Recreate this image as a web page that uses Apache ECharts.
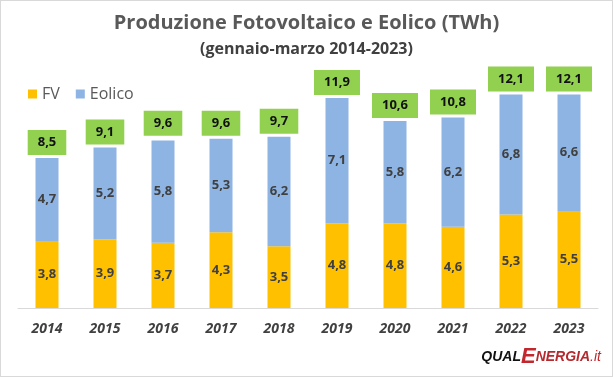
<!DOCTYPE html>
<html>
<head>
<meta charset="utf-8">
<script src="https://cdn.jsdelivr.net/npm/echarts@6/dist/echarts.min.js"></script>
<style>
    html, body { margin: 0; padding: 0; background: #fff; }
    #chart { width: 611px; height: 375px; border: 1px solid #d9d9d9; }
</style>
</head>
<body>
<div id="chart"></div>
<script>
    var years = ['2014', '2015', '2016', '2017', '2018', '2019', '2020', '2021', '2022', '2023'];
    var fv = [3.8, 3.9, 3.7, 4.3, 3.5, 4.8, 4.8, 4.6, 5.3, 5.5];
    var eolico = [4.7, 5.2, 5.8, 5.3, 6.2, 7.1, 5.8, 6.2, 6.8, 6.6];
    var totali = [8.5, 9.1, 9.6, 9.6, 9.7, 11.9, 10.6, 10.8, 12.1, 12.1];

    var font = '"Open Sans", "Noto Sans", sans-serif';
    function virgola(p) { return String(p.value.toFixed(1)).replace('.', ','); }

    var chart = echarts.init(document.getElementById('chart'));
    var option = {
        animation: false,
        title: [{
            text: 'Produzione Fotovoltaico e Eolico (TWh)',
            left: 'center',
            top: 7,
            textStyle: { fontFamily: font, fontSize: 20, fontWeight: 'bold', color: '#595959' }
        }, {
            text: '(gennaio-marzo 2014-2023)',
            left: 'center',
            top: 35,
            textStyle: { fontFamily: font, fontSize: 16, fontWeight: 'bold', color: '#404040' }
        }],
        legend: {
            left: 22,
            top: 80,
            itemWidth: 9,
            itemHeight: 9,
            itemGap: 16,
            icon: 'rect',
            data: ['FV', 'Eolico'],
            textStyle: { fontFamily: font, fontSize: 16, color: '#595959' }
        },
        grid: { left: 17, right: 14, top: 60, bottom: 68 },
        xAxis: {
            type: 'category',
            data: years,
            axisTick: { show: false },
            axisLine: { lineStyle: { color: '#d9d9d9' } },
            axisLabel: {
                margin: 14,
                fontFamily: font,
                fontSize: 14,
                fontWeight: 'bold',
                fontStyle: 'italic',
                color: '#404040'
            }
        },
        yAxis: {
            type: 'value',
            min: 0,
            max: 14,
            show: false,
            splitLine: { show: false }
        },
        series: [{
            name: 'FV',
            type: 'bar',
            stack: 'tot',
            data: fv,
            barWidth: 23,
            itemStyle: { color: '#FFC000' },
            label: {
                show: true, position: 'inside', formatter: virgola,
                fontFamily: font, fontSize: 13, fontWeight: 'bold', color: '#404040'
            }
        }, {
            name: 'Eolico',
            type: 'bar',
            stack: 'tot',
            data: eolico,
            barWidth: 23,
            itemStyle: { color: '#8EB4E3' },
            label: {
                show: true, position: 'inside', formatter: virgola,
                fontFamily: font, fontSize: 13, fontWeight: 'bold', color: '#404040'
            }
        }, {
            name: 'Totale',
            type: 'bar',
            data: totali,
            barWidth: 23,
            barGap: '-100%',
            silent: true,
            itemStyle: { color: 'rgba(0,0,0,0)' },
            label: {
                show: true, position: 'top', distance: 3, formatter: virgola,
                fontFamily: font, fontSize: 13, fontWeight: 'bold', color: '#111',
                backgroundColor: '#92D050', padding: [6, 10]
            }
        }],
        graphic: [{
            type: 'text',
            right: 11,
            top: 345,
            style: {
                text: '{q|QUAL}{e|E}{n|NERGIA}{i|.it}',
                rich: {
                    q: { fontFamily: 'Liberation Sans', fontSize: 14, fontWeight: 'bold', fontStyle: 'italic', fill: '#111' },
                    e: { fontFamily: 'Liberation Sans', fontSize: 22, fontWeight: 'bold', fontStyle: 'italic', fill: '#c1272d' },
                    n: { fontFamily: 'Liberation Sans', fontSize: 14, fontWeight: 'bold', fontStyle: 'italic', fill: '#b52a2f' },
                    i: { fontFamily: 'Liberation Sans', fontSize: 14, fontStyle: 'italic', fill: '#c1272d' }
                }
            }
        }]
    };
    chart.setOption(option);
</script>
</body>
</html>
